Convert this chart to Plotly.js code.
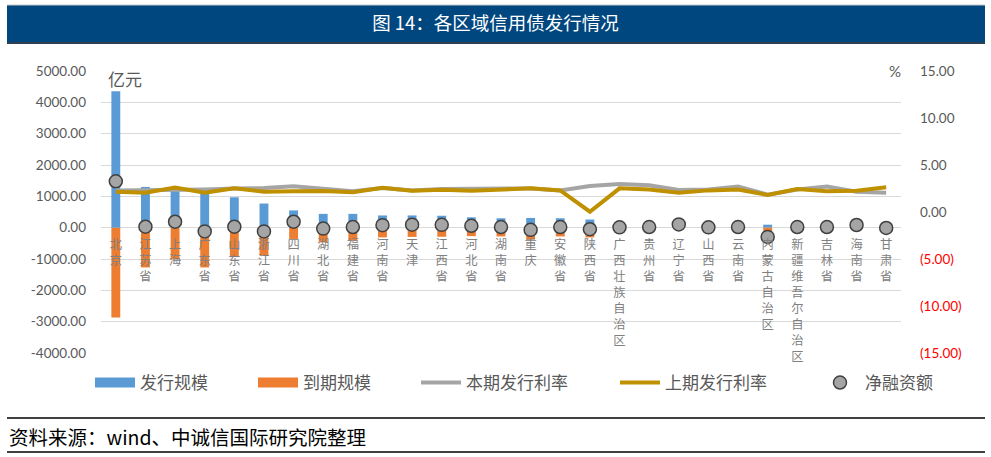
<!DOCTYPE html>
<html>
<head>
<meta charset="utf-8">
<script src="https://cdn.plot.ly/plotly-3.0.1.min.js"></script>
<style>
  html, body { margin: 0; padding: 0; background: #ffffff; }
  #chart { width: 991px; height: 457px; }
</style>
</head>
<body>
<div id="chart"></div>
<script>
// Regions (provinces / municipalities)
const categories = ['北京','江苏省','上海','广东省','山东省','浙江省','四川省','湖北省','福建省','河南省','天津','江西省','河北省','湖南省','重庆','安徽省','陕西省','广西壮族自治区','贵州省','辽宁省','山西省','云南省','内蒙古自治区','新疆维吾尔自治区','吉林省','海南省','甘肃省'];

// Issuance (亿元)
const issuance = [4350,1300,1200,1150,970,770,550,440,440,390,390,380,330,300,310,300,260,150,60,110,30,40,95,30,40,90,20];
// Maturities (亿元, drawn below zero)
const maturity = [-2870,-1270,-1010,-1270,-940,-890,-360,-470,-420,-310,-295,-290,-270,-280,-380,-280,-310,-140,-40,-5,-20,-20,-390,-10,-20,-5,-30];
// Net financing (亿元)
const netFinancing = [1480,30,190,-120,30,-120,190,-30,20,80,95,90,60,20,-70,20,-50,10,20,105,10,20,-295,20,20,85,-10];

// Issuance rates (%)
const rateCurrent = [2.30,2.30,2.30,2.40,2.50,2.55,2.75,2.50,2.20,2.55,2.30,2.45,2.45,2.45,2.50,2.30,2.77,2.98,2.84,2.34,2.40,2.70,1.85,2.40,2.70,2.16,2.05];
const ratePrevious = [2.16,2.06,2.59,2.05,2.52,2.16,2.20,2.23,2.09,2.59,2.27,2.38,2.27,2.41,2.52,2.30,0.03,2.52,2.40,2.05,2.30,2.40,1.81,2.45,2.20,2.25,2.63];

// Axis ticks
const leftTickVals = [-4000,-3000,-2000,-1000,0,1000,2000,3000,4000,5000];
const leftTickText = ['-4000.00','-3000.00','-2000.00','-1000.00','0.00','1000.00','2000.00','3000.00','4000.00','5000.00'];
const rightTickVals = [-15,-10,-5,0,5,10,15];
const rightTickText = ['(15.00)','(10.00)','(5.00)','0.00','5.00','10.00','15.00'];
const leftRange = [-4000, 5000];
const rightRange = [-15, 15];

// Series colours
const colIssue = '#5B9BD5', colMature = '#ED7D31', colCur = '#A5A5A5', colPrev = '#BF9000';

// Plot-area geometry (pixels)
const W = 991, H = 457;
const M = { l: 101, r: 90, t: 71, b: 104 };
const PW = W - M.l - M.r, PH = H - M.t - M.b;
const px = x => (x - M.l) / PW;           // pixel x -> paper x
const py = y => (H - M.b - y) / PH;       // pixel y -> paper y

// Category names are written top-to-bottom, one character per line
const stacked = categories.map(c => c.split('').join('<br>'));
const rightLabels = rightTickText.map((t, i) =>
  rightTickVals[i] < 0 ? '<span style="color:#ff0000">' + t + '</span>' : t);

const cjk = 'Noto Sans CJK SC, sans-serif';
const legendFont = { family: cjk, size: 17, color: '#595959' };
const legendBase = { orientation: 'h', yanchor: 'middle', y: py(383), xanchor: 'left',
  itemwidth: 40, font: legendFont, bgcolor: 'rgba(0,0,0,0)', borderwidth: 0, itemclick: false };

const traces = [
  { type: 'bar', name: '发行规模', x: categories, y: issuance, width: 0.3,
    marker: { color: colIssue }, showlegend: false, hoverinfo: 'skip' },
  { type: 'bar', name: '到期规模', x: categories, y: maturity, width: 0.3,
    marker: { color: colMature }, showlegend: false, hoverinfo: 'skip' },
  // legend keys for the bar series, shown as wide flat swatches
  { type: 'scatter', mode: 'lines', name: '发行规模', x: [null], y: [null],
    line: { color: colIssue, width: 11 }, legend: 'legend', hoverinfo: 'skip' },
  { type: 'scatter', mode: 'lines', name: '到期规模', x: [null], y: [null],
    line: { color: colMature, width: 11 }, legend: 'legend2', hoverinfo: 'skip' },
  { type: 'scatter', mode: 'lines', name: '本期发行利率', x: categories, y: rateCurrent,
    yaxis: 'y2', line: { color: colCur, width: 4 }, legend: 'legend3', hoverinfo: 'skip' },
  { type: 'scatter', mode: 'lines', name: '上期发行利率', x: categories, y: ratePrevious,
    yaxis: 'y2', line: { color: colPrev, width: 4 }, legend: 'legend4', hoverinfo: 'skip' },
  { type: 'scatter', mode: 'markers', name: '净融资额', x: categories, y: netFinancing,
    marker: { size: 13, color: '#A5A5A5', line: { color: '#404040', width: 1.5 } },
    legend: 'legend5', hoverinfo: 'skip' }
];

const layout = {
  width: W, height: H, margin: M,
  paper_bgcolor: '#ffffff', plot_bgcolor: '#ffffff',
  barmode: 'relative', showlegend: true,
  title: { text: '图 14：各区域信用债发行情况', xref: 'container', yref: 'container',
    x: 0.5, xanchor: 'center', y: 1 - 24 / H, yanchor: 'middle',
    font: { family: cjk, size: 18.5, color: '#ffffff' } },
  xaxis: {
    range: [-0.5, categories.length - 0.5], tickmode: 'array',
    tickvals: categories, ticktext: stacked, tickangle: 0,
    anchor: 'free', position: -leftRange[0] / (leftRange[1] - leftRange[0]),
    showgrid: false, showline: false, zeroline: false, ticks: '',
    ticklabelstandoff: 8,
    tickfont: { family: 'Lato, Noto Sans CJK SC, sans-serif', size: 12.3, color: '#808080' },
    fixedrange: true
  },
  yaxis: {
    range: leftRange, tickmode: 'array', tickvals: leftTickVals, ticktext: leftTickText,
    showgrid: true, gridcolor: '#D9D9D9', gridwidth: 1, zeroline: false, showline: false,
    ticks: '', ticklabelstandoff: 14,
    tickfont: { family: 'Lato, sans-serif', size: 13.5, color: '#595959' }, fixedrange: true
  },
  yaxis2: {
    overlaying: 'y', side: 'right', range: rightRange, tickmode: 'array',
    tickvals: rightTickVals, ticktext: rightLabels,
    showgrid: false, zeroline: false, showline: false, ticks: '', ticklabelstandoff: 18,
    tickfont: { family: 'Lato, sans-serif', size: 13.5, color: '#595959' }, fixedrange: true
  },
  legend:  Object.assign({}, legendBase, { x: px(90) }),
  legend2: Object.assign({}, legendBase, { x: px(253) }),
  legend3: Object.assign({}, legendBase, { x: px(416) }),
  legend4: Object.assign({}, legendBase, { x: px(615) }),
  legend5: Object.assign({}, legendBase, { x: px(815) }),
  shapes: [
    { type: 'rect', xref: 'paper', yref: 'paper', x0: px(7), x1: px(985), y0: py(43), y1: py(5),
      fillcolor: '#00467F', line: { width: 0 }, layer: 'below' },
    { type: 'line', xref: 'paper', yref: 'paper', x0: px(7), x1: px(985), y0: py(5), y1: py(5),
      line: { color: '#C8C8C8', width: 1 } },
    { type: 'line', xref: 'paper', yref: 'paper', x0: px(7), x1: px(985), y0: py(43), y1: py(43),
      line: { color: '#2F3F4F', width: 2 } },
    { type: 'line', xref: 'paper', yref: 'paper', x0: px(7), x1: px(985), y0: py(418), y1: py(418),
      line: { color: '#000000', width: 1.5 } },
    { type: 'line', xref: 'paper', yref: 'paper', x0: px(7), x1: px(985), y0: py(452), y1: py(452),
      line: { color: '#404040', width: 2 } }
  ],
  annotations: [
    { text: '亿元', xref: 'paper', yref: 'paper', x: px(106), y: py(78), xanchor: 'left', yanchor: 'middle',
      showarrow: false, font: { family: cjk, size: 17, color: '#595959' } },
    { text: '%', xref: 'paper', yref: 'paper', x: px(895), y: py(71), xanchor: 'center', yanchor: 'middle',
      showarrow: false, font: { family: 'Lato, sans-serif', size: 15, color: '#595959' } },
    { text: '资料来源：wind、中诚信国际研究院整理', xref: 'paper', yref: 'paper', x: px(7), y: py(436),
      xanchor: 'left', yanchor: 'middle', showarrow: false,
      font: { family: cjk, size: 19.5, color: '#000000' } }
  ]
};

Plotly.newPlot('chart', traces, layout, { displayModeBar: false, staticPlot: true });
</script>
</body>
</html>
